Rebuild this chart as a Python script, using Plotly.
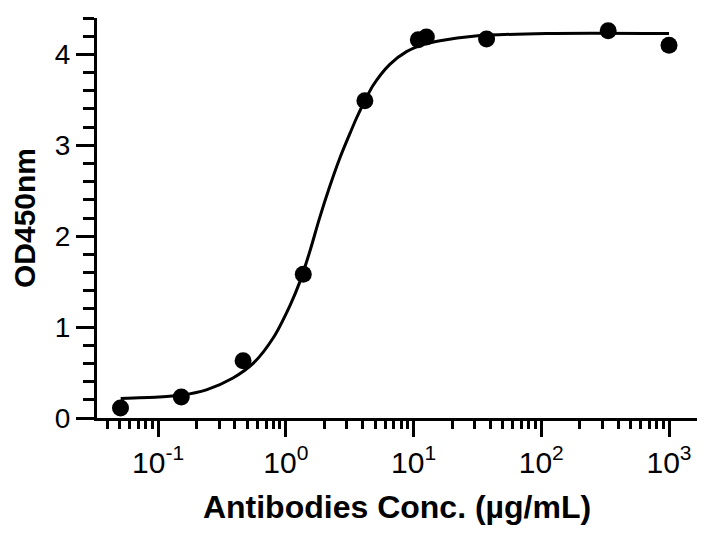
import plotly.graph_objects as go

# measured points
conc = [0.0508, 0.152, 0.463, 1.37, 4.16, 10.9, 12.6, 37.3, 334, 1000]
od450 = [0.11, 0.23, 0.63, 1.58, 3.49, 4.16, 4.19, 4.17, 4.26, 4.10]

# fitted curve
fit_conc = [0.051, 0.1, 0.15, 0.239, 0.386, 0.555, 0.796, 1.08, 1.29, 1.54,
            1.82, 2.2, 2.65, 3.2, 3.58, 4.16, 4.83, 6.52, 8.81, 12, 16.1,
            29.3, 110, 1000]
fit_od = [0.215, 0.23, 0.25, 0.31, 0.44, 0.60, 0.88, 1.24, 1.50, 1.83,
          2.18, 2.54, 2.86, 3.14, 3.30, 3.49, 3.66, 3.89, 4.03, 4.11, 4.15,
          4.20, 4.23, 4.23]

x_tickvals = [0.1, 1, 10, 100, 1000]
x_ticktext = ["10<sup>-1</sup>", "10<sup>0</sup>", "10<sup>1</sup>",
              "10<sup>2</sup>", "10<sup>3</sup>"]
y_tickvals = [0, 1, 2, 3, 4]

font = "Liberation Sans, Arial, sans-serif"

fig = go.Figure()

fig.add_trace(
    go.Scatter(
        x=fit_conc,
        y=fit_od,
        mode="lines",
        line=dict(color="black", width=3, shape="spline", smoothing=0.8),
        showlegend=False,
    )
)

fig.add_trace(
    go.Scatter(
        x=conc,
        y=od450,
        mode="markers",
        marker=dict(color="black", size=17),
        showlegend=False,
    )
)

fig.update_xaxes(
    type="log",
    range=[-1.478, 3.219],
    tickvals=x_tickvals,
    ticktext=x_ticktext,
    ticks="outside",
    ticklen=16,
    tickwidth=3,
    tickcolor="black",
    showline=True,
    linewidth=3,
    linecolor="black",
    showgrid=False,
    zeroline=False,
    minor=dict(ticks="outside", ticklen=8, tickwidth=3, tickcolor="black",
               dtick="D1", showgrid=False),
    tickfont=dict(family=font, size=30, color="black"),
    title=dict(text="<b>Antibodies Conc. (µg/mL)</b>", standoff=18,
               font=dict(family=font, size=32, color="black")),
)

fig.update_yaxes(
    range=[0, 4.4],
    tickvals=y_tickvals,
    ticks="outside",
    ticklen=18,
    tickwidth=3,
    tickcolor="black",
    showline=True,
    linewidth=3,
    linecolor="black",
    showgrid=False,
    zeroline=False,
    minor=dict(ticks="outside", ticklen=11, tickwidth=3, tickcolor="black",
               dtick=0.2, showgrid=False),
    tickfont=dict(family=font, size=28, color="black"),
    title=dict(text="<b>OD450nm</b>", standoff=12,
               font=dict(family=font, size=30, color="black")),
)

# page body adds 8px, so the figure is 8px smaller than the window
fig.update_layout(
    width=704,
    height=525,
    margin=dict(l=89, r=15, t=10, b=115),
    plot_bgcolor="white",
    paper_bgcolor="white",
)

fig.write_html("out.html")
